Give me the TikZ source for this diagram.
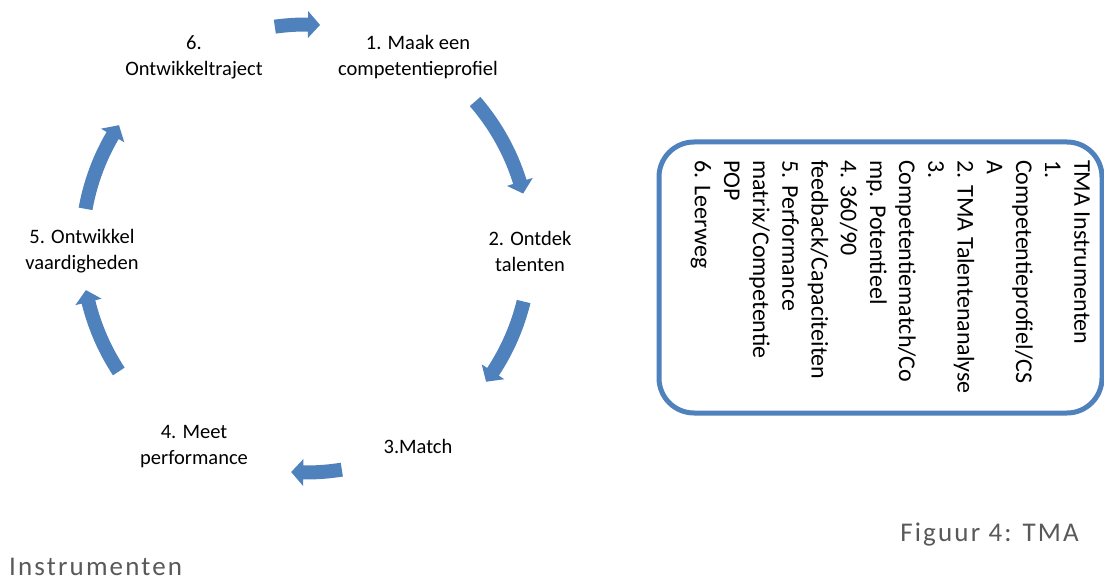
\documentclass[tikz,border=0pt]{standalone}
\usepackage{fontspec}
\usetikzlibrary{calc}
\setmainfont{Carlito}
\newfontfamily\capfont[LetterSpace=8]{Carlito}
\definecolor{accblue}{RGB}{79,129,189}
\definecolor{capgray}{RGB}{89,89,89}
\tikzset{
  stagetext/.style={align=center, inner sep=0pt, font=\fontsize{20.5}{26}\selectfont},
  cycarrow/.style={fill=accblue},
  infobox/.style={draw=accblue, line width=5pt, rounded corners=35pt},
  boxtext/.style={rotate=-90, anchor=north west, align=left, inner sep=0pt, font=\fontsize{24}{29.2}\selectfont},
  captext/.style={text=capgray, inner sep=0pt, font=\capfont\fontsize{27}{32}\selectfont}
}
\newcommand\cyclearrow[2]{%
  \pgfmathsetmacro\headang{#2+3.1}%
  \fill[cycarrow] (#1:231pt) arc[start angle=#1, end angle=\headang, radius=231pt]
    -- (\headang:237.5pt) -- (#2:224pt) -- (\headang:210.5pt) -- (\headang:217pt)
    arc[start angle=\headang, end angle=#1, radius=217pt] -- cycle;}
\begin{document}
\begin{tikzpicture}[x=1pt, y=1pt]
\useasboundingbox (0,0) rectangle (1104,-580);
\begin{scope}[shift={(306,-248.5)}]
  \node[stagetext] (n6) at ($(120:224pt)+(0,-3)$) {6.\\Ontwikkeltraject};
  \node[stagetext] (n1) at ($(60:224pt)+(0,-3)$) {1. Maak een\\competentieprofiel};
  \node[stagetext] (n2) at ($(0:224pt)+(0,-3)$) {2. Ontdek\\talenten};
  \node[stagetext] (n3) at ($(-60:224pt)+(0,-4)$) {3.Match};
  \node[stagetext] (n4) at ($(-120:224pt)+(0,-4)$) {4. Meet\\performance};
  \node[stagetext] (n5) at ($(180:224pt)+(0,-3)$) {5. Ontwikkel\\vaardigheden};
  \cyclearrow{98}{86.4}
  \cyclearrow{41}{14.2}
  \cyclearrow{-13.7}{-36.5}
  \cyclearrow{-80.8}{-93.8}
  \cyclearrow{213.3}{190.7}
  \cyclearrow{169.8}{146.6}
\end{scope}
\draw[infobox] (659,-142) rectangle (1102,-413);
\node[boxtext] (info) at (1090,-160) {TMA Instrumenten\\1.\\Competentieprofiel/CS\\A\\2. TMA Talentenanalyse\\3.\\Competentiematch/Co\\mp. Potentieel\\4. 360/90\\feedback/Capaciteiten\\5. Performance\\matrix/Competentie\\POP\\6. Leerweg};
\node[captext, anchor=base east] (cap1) at (1079,-541) {Figuur 4: TMA};
\node[captext, anchor=base west] (cap2) at (9,-575) {Instrumenten};
\end{tikzpicture}
\end{document}
